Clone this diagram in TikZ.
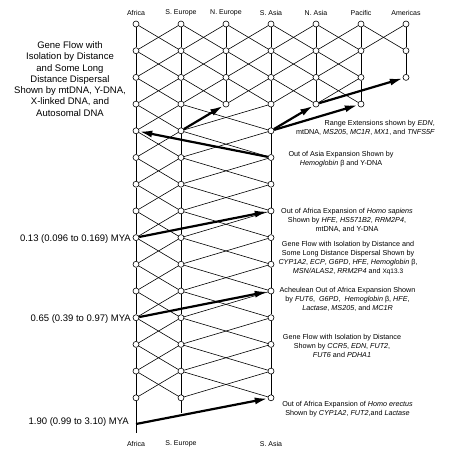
\documentclass[tikz,border=0pt]{standalone}
\usepackage{fontspec}
\setmainfont{Liberation Sans}
\usetikzlibrary{arrows.meta}
\begin{document}
\begin{tikzpicture}[x=1pt,y=-1pt,
  site/.style={circle,draw,fill=white,inner sep=0pt,minimum size=6pt,line width=0.6pt},
  link/.style={line width=0.6pt},
  move/.style={line width=2.2pt,-{Latex[length=13pt,width=7pt]}},
  collab/.style={font=\fontsize{7}{8}\selectfont,inner sep=0pt},
  note/.style={font=\fontsize{7.2}{9}\selectfont,align=center,inner sep=0pt},
  big/.style={font=\fontsize{9.5}{11.3}\selectfont,inner sep=0pt}]
\useasboundingbox[fill=white] (0,0) rectangle (460,455);

% sites
\foreach \c/\x/\n in {A/136/14,B/181/14,C/226/3,D/271/14,E/316/3,F/361/3,G/406/2}{
  \foreach \k in {0,...,\n}{
    \node[site] (\c\k) at (\x,{24+26.7*\k}) {};
  }
}
\coordinate (Astart) at (136,424);
\coordinate (Aend) at (136,433);
\coordinate (Bend) at (181,413);

% vertical lineages
\foreach \c/\n in {A/13,B/13,C/2,D/13,E/2,F/2,G/1}{
  \foreach \k [evaluate=\k as \j using int(\k+1)] in {0,...,\n}{
    \draw[link] (\c\k) -- (\c\j);
  }
}
\draw[link] (A14) -- (Aend);
\draw[link] (B14) -- (Bend);

% gene flow, upper part
\foreach \p/\q in {A/B,B/C,C/D,D/E,E/F}{
  \foreach \k [evaluate=\k as \j using int(\k+1)] in {0,1,2}{
    \draw[link] (\p\k) -- (\q\j);
    \draw[link] (\q\k) -- (\p\j);
  }
}
\draw[link] (F0) -- (G1);
\draw[link] (G0) -- (F1);

% gene flow, lower part
\foreach \p/\q in {A/B,B/D}{
  \foreach \k [evaluate=\k as \j using int(\k+1)] in {3,...,13}{
    \draw[link] (\p\k) -- (\q\j);
    \draw[link] (\q\k) -- (\p\j);
  }
}

% expansions
\draw[move] (Astart) -- (D14);
\draw[move] (A11) -- (D10);
\draw[move] (A8) -- (D7);
\draw[move] (D5) -- (A4);
\draw[move] (B4) -- (C3);
\draw[move] (D4) -- (E3);
\draw[move] (D4) -- (F3);
\draw[move] (E3) -- (G2);

% column labels
\node[collab] (tA) at (136,13) {Africa};
\node[collab] (tB) at (181,13) {S. Europe};
\node[collab] (tC) at (226,13) {N. Europe};
\node[collab] (tD) at (271,13) {S. Asia};
\node[collab] (tE) at (316,13) {N. Asia};
\node[collab] (tF) at (361,13) {Pacific};
\node[collab] (tG) at (406,13) {Americas};
\node[collab] (bA) at (136,444) {Africa};
\node[collab] (bB) at (181,444) {S. Europe};
\node[collab] (bD) at (271,444) {S. Asia};

% dates
\node[big,anchor=east] (m1) at (131,239) {0.13 (0.096 to 0.169) MYA};
\node[big,anchor=east] (m2) at (131,319) {0.65 (0.39 to 0.97) MYA};
\node[big,anchor=east] (m3) at (129,422) {1.90 (0.99 to 3.10) MYA};

% left note
\node[big,align=center] (lt) at (70,79) {Gene Flow with\\Isolation by Distance\\and Some Long\\Distance Dispersal\\Shown by mtDNA, Y-DNA,\\X-linked DNA, and\\Autosomal DNA};

% right notes
\node[note,align=right,anchor=east] (n1) at (435,127.5) {Range Extensions shown by \textit{EDN},\\mtDNA, \textit{MS205}, \textit{MC1R}, \textit{MX1}, and \textit{TNFS5F}};
\node[note] (n2) at (341,159.5) {Out of Asia Expansion Shown by\\\textit{Hemoglobin} β and Y-DNA};
\node[note] (n3) at (347,220) {Out of Africa Expansion of \textit{Homo sapiens}\\Shown by \textit{HFE}, \textit{HS571B2}, \textit{RRM2P4},\\mtDNA, and Y-DNA};
\node[note] (n4) at (348,258.5) {Gene Flow with Isolation by Distance and\\Some Long Distance Dispersal Shown by\\\textit{CYP1A2}, \textit{ECP}, \textit{G6PD}, \textit{HFE}, \textit{Hemoglobin} β,\\\textit{MSN/ALAS2}, \textit{RRM2P4} and {\fontsize{6.5}{9}\selectfont Xq13.3}};
\node[note] (n5) at (347.5,299.5) {Acheulean Out of Africa Expansion Shown\\by \textit{FUT6},\ \ \textit{G6PD},\ \ \textit{Hemoglobin} β, \textit{HFE},\\\textit{Lactase}, \textit{MS205}, and \textit{MC1R}};
\node[note] (n6) at (342,345.5) {Gene Flow with Isolation by Distance\\Shown by \textit{CCR5}, \textit{EDN}, \textit{FUT2},\\\textit{FUT6} and \textit{PDHA1}};
\node[note] (n7) at (347.5,409.5) {Out of Africa Expansion of \textit{Homo erectus}\\Shown by \textit{CYP1A2}, \textit{FUT2},and \textit{Lactase}};
\end{tikzpicture}
\end{document}
